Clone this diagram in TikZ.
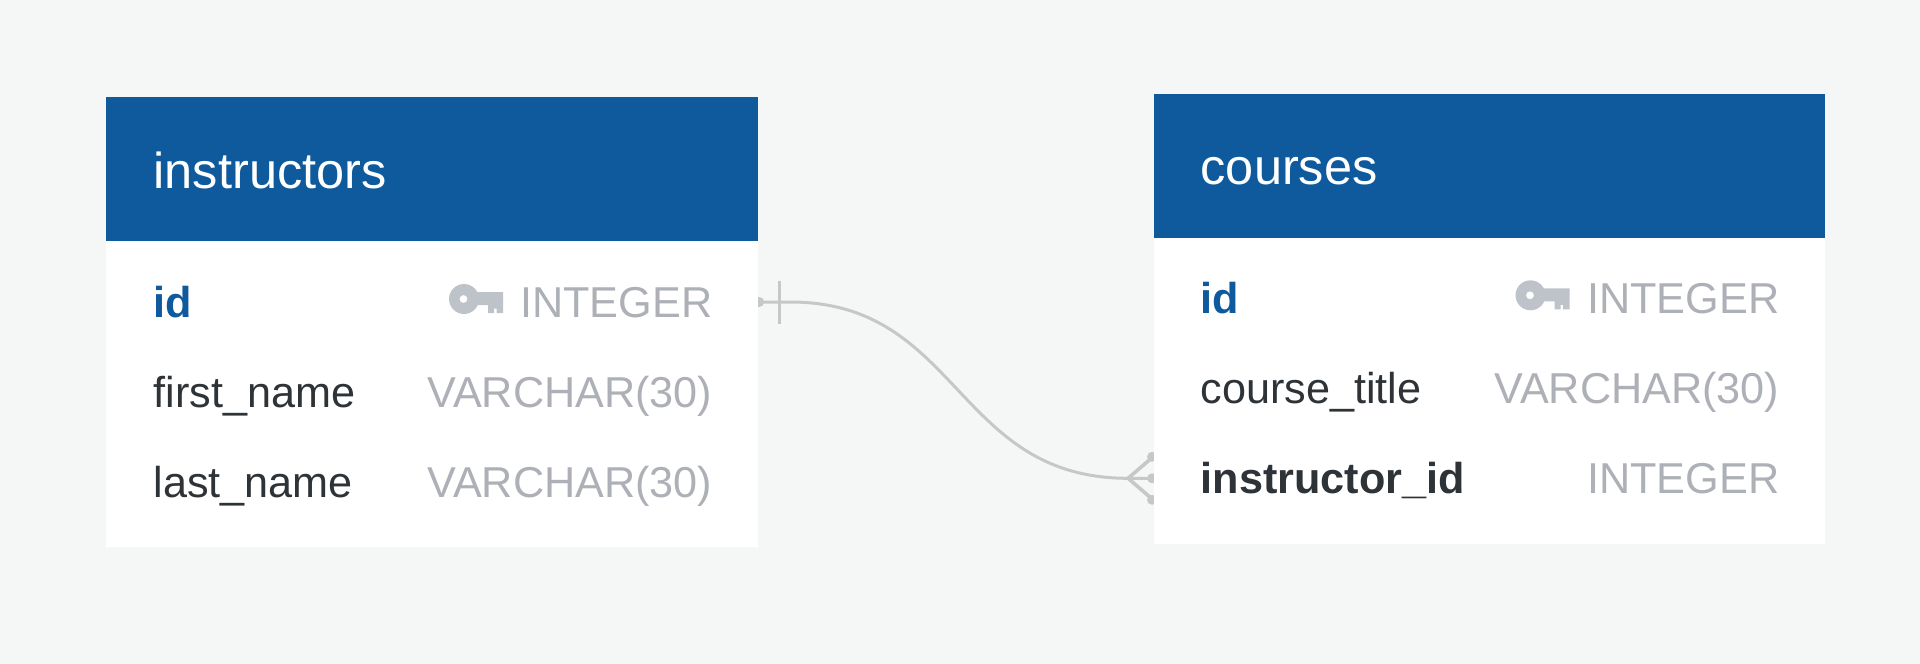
\documentclass[tikz,border=0pt]{standalone}
\usepackage{fontspec}
\setmainfont{Liberation Sans}
\definecolor{pagebg}{HTML}{F5F7F7}
\definecolor{headblue}{HTML}{0E5A9C}
\definecolor{typegray}{HTML}{ADB0B6}
\definecolor{namedark}{HTML}{2E3338}
\definecolor{keygray}{HTML}{BEC2C9}
\definecolor{linkgray}{HTML}{C6C7C7}
\pgfdeclarelayer{connlayer}
\pgfsetlayers{connlayer,main}
\tikzset{
  x=1pt,y=-1pt,
  headbox/.style={fill=headblue,draw=none,inner sep=0,minimum width=#1,minimum height=144pt,anchor=north west},
  bodybox/.style n args={2}{fill=white,draw=none,inner sep=0,minimum width=#1,minimum height=#2,anchor=north west},
  rowbox/.style={draw=none,inner sep=0,minimum width=#1,minimum height=90pt},
  title/.style={anchor=base west,inner sep=0,text=white,font=\fontsize{50.5}{60}\selectfont},
  colname/.style={anchor=base west,inner sep=0,text=namedark,font=\fontsize{43.2}{52}\selectfont},
  colpk/.style={colname,text=headblue,font=\fontsize{43.2}{52}\selectfont\bfseries},
  colfk/.style={colname,font=\fontsize{43.2}{52}\selectfont\bfseries},
  coltype/.style={anchor=base east,inner sep=0,text=typegray,font=\fontsize{43.2}{52}\selectfont},
  link/.style={draw=linkgray,line width=3pt},
  crow/.style={draw=linkgray,line width=3.6pt},
  linkdot/.style={fill=linkgray,draw=none},
}
% key glyph: #1,#2 = left end of the ring, ring's centre height
\newcommand{\keyglyph}[2]{%
  \fill[keygray,even odd rule,shift={(#1,#2)}]
    (15,0) circle[radius=15] (14.5,0) circle[radius=4];
  \fill[keygray,shift={(#1,#2)}]
    (27,-7) -- (54,-7) -- (54,14) -- (47.5,14) -- (47.5,9.5) -- (45,9.5) -- (45,14) -- (39,14) -- (39,6) -- (27,6) -- cycle;
}
\begin{document}
\begin{tikzpicture}
\useasboundingbox (0,0) rectangle (1920,664);
\begin{pgfonlayer}{connlayer}
  \fill[pagebg] (0,0) rectangle (1920,664);
\end{pgfonlayer}

% instructors table
\node[bodybox={652pt}{306pt}] (ibody) at (106,241) {};
\node[headbox=652pt] (ihead) at (106,97) {};
\node[title] (ititle) at (153.5,188) {instructors};
\node[rowbox=652pt] (ir1) at (432,302) {};
\node[rowbox=652pt] (ir2) at (432,392) {};
\node[rowbox=652pt] (ir3) at (432,482) {};
\node[colpk] (iidn) at (153.5,317) {id};
\node[coltype] (iidt) at (712.5,317) {INTEGER};
\node[colname] (ifn) at (153.5,407) {first\_name};
\node[coltype] (ifnt) at (712.5,407) {VARCHAR(30)};
\node[colname] (iln) at (153.5,497) {last\_name};
\node[coltype] (ilnt) at (712.5,497) {VARCHAR(30)};
\keyglyph{449}{299}

% courses table
\node[bodybox={671.5pt}{306pt}] (cbody) at (1153.3,237.3) {};
\node[headbox=671.5pt] (chead) at (1153.3,93.3) {};
\node[title] (ctitle) at (1200.5,184.3) {courses};
\node[rowbox=671.5pt] (cr1) at (1489,298.3) {};
\node[rowbox=671.5pt] (cr2) at (1489,388.3) {};
\node[rowbox=671.5pt] (cr3) at (1489,478.3) {};
\node[colpk] (cidn) at (1200.5,313.3) {id};
\node[coltype] (cidt) at (1779.5,313.3) {INTEGER};
\node[colname] (ctn) at (1200.5,403.3) {course\_title};
\node[coltype] (ctt) at (1779.5,403.3) {VARCHAR(30)};
\node[colfk] (cin) at (1200.5,493.3) {instructor\_id};
\node[coltype] (cit) at (1779.5,493.3) {INTEGER};
\keyglyph{1515.5}{295.3}

% connector
\begin{pgfonlayer}{connlayer}
  \coordinate (crowapex) at ([xshift=-25pt]cr3.west);
  \coordinate (crowup) at ([yshift=-21.5pt]cr3.west);
  \coordinate (crowdown) at ([yshift=21.5pt]cr3.west);
  \coordinate (barup) at ([xshift=21pt,yshift=-21.5pt]ir1.east);
  \coordinate (bardown) at ([xshift=21pt,yshift=21.5pt]ir1.east);
  \draw[link] (ir1.east) -- ([xshift=32pt]ir1.east)
     .. controls ([xshift=202pt]ir1.east) and ([xshift=-198pt]cr3.west) .. (crowapex)
     -- (cr3.west);
  \draw[link] (barup) -- (bardown);
  \draw[crow] (crowup) -- (crowapex) -- (crowdown);
  \fill[linkdot] ([xshift=1pt]ir1.east) circle[radius=5];
  \fill[linkdot] ([xshift=-1pt]cr3.west) circle[radius=5];
  \fill[linkdot] ([xshift=-1pt]crowup) circle[radius=5];
  \fill[linkdot] ([xshift=-1pt]crowdown) circle[radius=5];
\end{pgfonlayer}
\end{tikzpicture}
\end{document}
